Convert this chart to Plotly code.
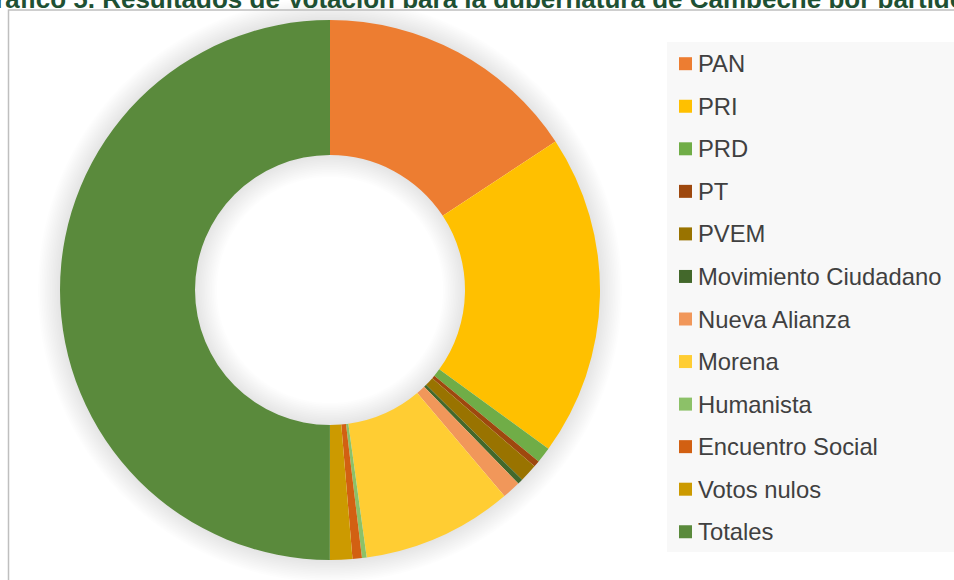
import math
import plotly.graph_objects as go

W, H = 954, 580

# ---- data (percent of the donut) ----
partidos = ["PAN", "PRI", "PRD", "PT", "PVEM", "Movimiento Ciudadano",
            "Nueva Alianza", "Morena", "Humanista", "Encuentro Social",
            "Votos nulos", "Totales"]
valores = [15.67, 19.19, 0.94, 0.375, 1.07, 0.32, 1.10, 8.97, 0.28, 0.56, 1.33, 49.79]
colores = ["#ED7D31", "#FFC000", "#70AD47", "#9E480E", "#997300", "#43682B",
           "#F1975A", "#FFCD33", "#8CC168", "#D26012", "#CC9A00", "#5A8A3C"]
titulo = "Gráfico 5. Resultados de Votación para la gubernatura de Campeche por partido"

# ---- layout helpers ----
def px(x):
    return x / W

def py(y):
    return 1 - y / H

CX, CY, R = 330, 290, 270
HOLE = 0.5

fig = go.Figure()
fig.add_trace(go.Pie(
    labels=partidos, values=valores, sort=False, direction="clockwise",
    rotation=0, hole=HOLE, textinfo="none", hoverinfo="label+percent",
    marker=dict(colors=colores, line=dict(width=0)),
    domain=dict(x=[px(CX - R), px(CX + R)], y=[py(CY + R), py(CY - R)]),
    showlegend=False,
))

shapes = []

def ring_path(r_in, r_out, n=180):
    pts_o = [(r_out * math.cos(2 * math.pi * i / n), r_out * math.sin(2 * math.pi * i / n)) for i in range(n)]
    pts_i = [(r_in * math.cos(2 * math.pi * i / n), r_in * math.sin(2 * math.pi * i / n)) for i in range(n)]
    p = "M" + " L".join(f"{x:.2f},{y:.2f}" for x, y in pts_o) + " Z "
    p += "M" + " L".join(f"{x:.2f},{y:.2f}" for x, y in reversed(pts_i)) + " Z"
    return p

# soft glow around the ring (outside and inside the hole)
for k in range(1, 14):
    for (ri, ro) in [(R - 1, R + 1.7 * k), (R * HOLE - 1.7 * k, R * HOLE + 1)]:
        shapes.append(dict(
            type="path", layer="below", xref="paper", yref="paper",
            xsizemode="pixel", ysizemode="pixel", xanchor=px(CX), yanchor=py(CY),
            path=ring_path(ri, ro), fillcolor="rgba(0,0,0,0.0085)",
            line=dict(width=0), fillrule="evenodd",
        ))

# chart frame
shapes.append(dict(type="rect", xref="paper", yref="paper", layer="below",
                   x0=px(8.5), x1=px(W + 20), y0=py(H + 20), y1=py(10),
                   line=dict(color="#BFBFBF", width=1.5), fillcolor="rgba(0,0,0,0)"))
# legend background
shapes.append(dict(type="rect", xref="paper", yref="paper", layer="below",
                   x0=px(667), x1=px(W + 5), y0=py(552), y1=py(42),
                   line=dict(width=0), fillcolor="#F8F8F8"))

annotations = []
LEG_Y0, LEG_DY = 63.7, 42.55
for i, (lab, col) in enumerate(zip(partidos, colores)):
    yc = LEG_Y0 + i * LEG_DY
    shapes.append(dict(type="rect", xref="paper", yref="paper", layer="above",
                       x0=px(679), x1=px(692), y0=py(yc + 6.5), y1=py(yc - 6.5),
                       line=dict(width=0), fillcolor=col))
    annotations.append(dict(text=lab, xref="paper", yref="paper", x=px(696), y=py(yc),
                            xanchor="left", yanchor="middle", showarrow=False,
                            font=dict(family="Arial, Liberation Sans", size=23.8, color="#404040")))

# title (cut off at the top of the picture, as in the original)
annotations.append(dict(text=f"<b>{titulo}</b>", xref="paper", yref="paper",
                        x=px(470), y=py(8), xanchor="center", yanchor="bottom",
                        height=24, valign="top", borderpad=0, borderwidth=0,
                        showarrow=False,
                        font=dict(family="Arial, Liberation Sans", size=26, color="#1E5033")))

fig.update_layout(
    width=W, height=H, margin=dict(l=0, r=0, t=0, b=0),
    paper_bgcolor="white", plot_bgcolor="white",
    shapes=shapes, annotations=annotations, showlegend=False,
)

fig.write_html("out.html", config={"displayModeBar": False},
               post_script="document.body.style.margin='0';")
